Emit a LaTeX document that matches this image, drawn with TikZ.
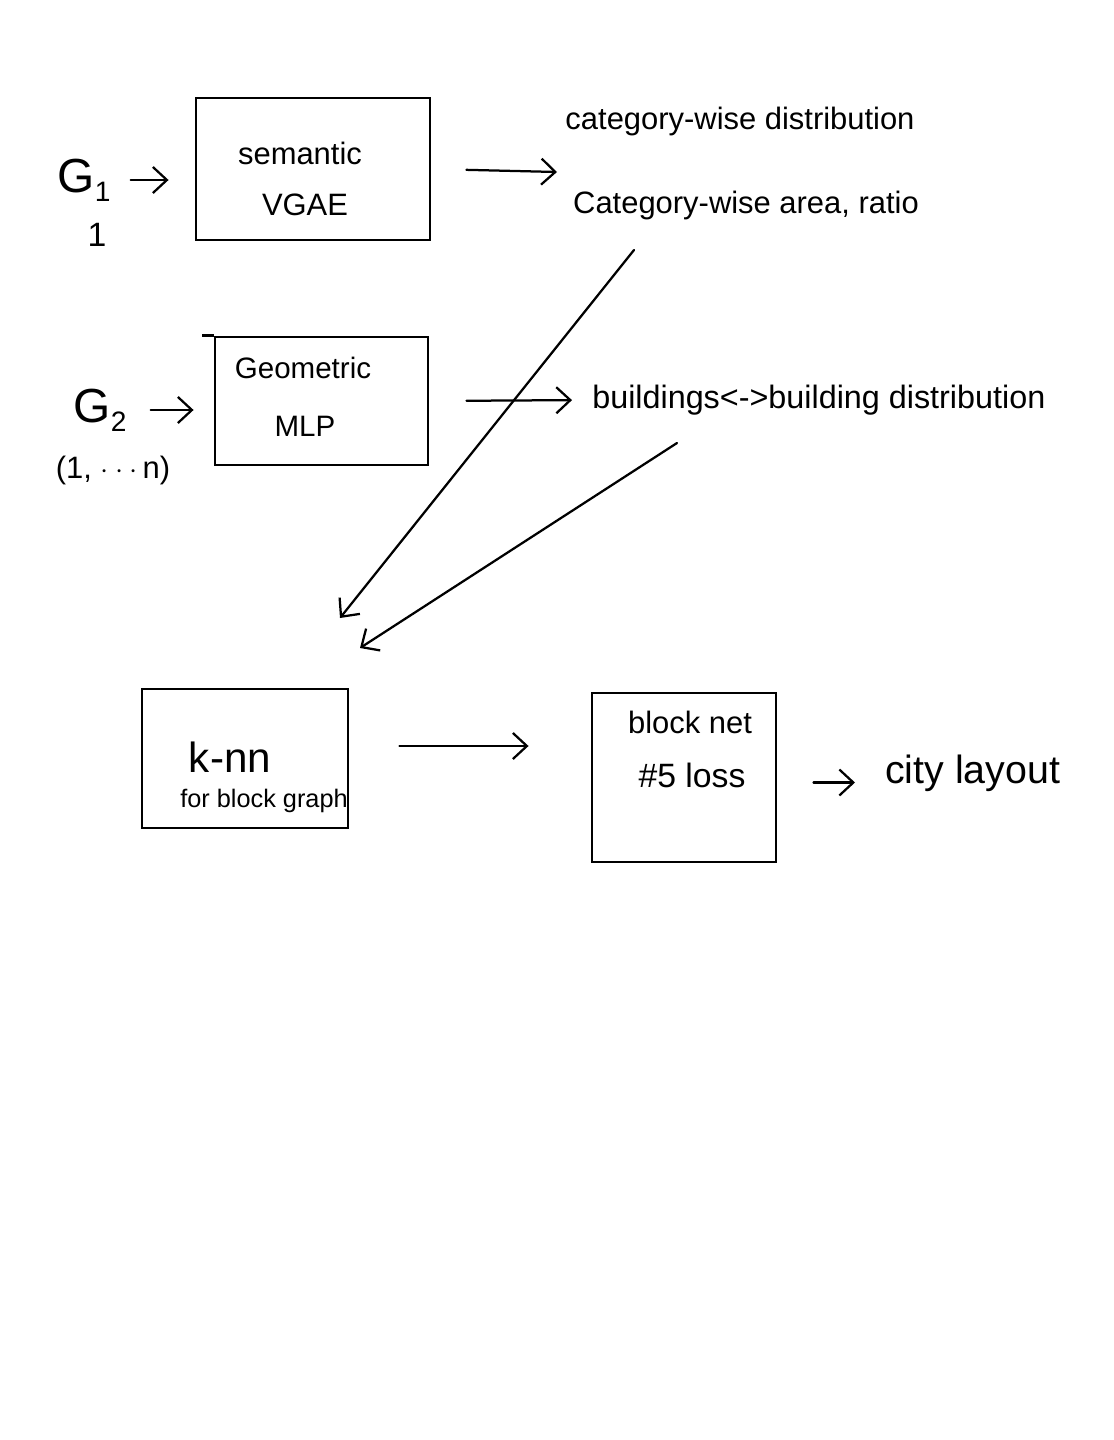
\documentclass[tikz,border=0pt]{standalone}
\usepackage{fontspec}
\setmainfont{Liberation Sans}
\usetikzlibrary{arrows.meta}
\newcommand{\subtxt}[1]{\raisebox{-0.35ex}{\fontsize{20}{22}\selectfont #1}}
\begin{document}
\begin{tikzpicture}[x=0.025cm,y=-0.025cm,
  box/.style={draw,line width=2pt,inner sep=0pt},
  arr/.style={line width=1.6pt,line cap=round,-{Straight Barb[length=3.5mm,width=6.5mm,line width=1.6pt]}},
  lbl/.style={inner sep=0pt,anchor=center}]
\fill[white] (0,0) rectangle (1113,1440);
% boxes
\node[box,minimum width=5.85cm,minimum height=3.55cm] (sem) at (313,169) {};
\node[box,minimum width=5.325cm,minimum height=3.2cm] (geo) at (321.5,401) {};
\node[box,minimum width=5.15cm,minimum height=3.475cm] (knn) at (245,758.5) {};
\node[box,minimum width=4.6cm,minimum height=4.225cm] (net) at (684,777.5) {};
\draw[line width=2pt] (geo.north west) -- ++(-12,0);
% texts
\node[lbl,font=\fontsize{34}{40}\selectfont] (g1) at (84,180) {G\subtxt{1}};
\node[lbl,font=\fontsize{24}{28}\selectfont] (one) at (97,235) {1};
\node[lbl,font=\fontsize{22}{26}\selectfont] (semt) at (300,153) {semantic};
\node[lbl,font=\fontsize{22}{26}\selectfont] (vgae) at (305,205) {VGAE};
\node[lbl,font=\fontsize{22}{26}\selectfont] (cat1) at (740,122) {category-wise distribution};
\node[lbl,font=\fontsize{22}{26}\selectfont] (cat2) at (746,205) {Category-wise area, ratio};
\coordinate (catin) at (557,172);
\node[lbl,font=\fontsize{34}{40}\selectfont] (g2) at (100,410) {G\subtxt{2}};
\node[lbl,font=\fontsize{22}{26}\selectfont] (range) at (113,470) {(1, $\cdot\cdot\cdot\,$n)};
\node[lbl,font=\fontsize{21}{25}\selectfont] (geot) at (303,368) {Geometric};
\node[lbl,font=\fontsize{21}{25}\selectfont] (mlp) at (305,426) {MLP};
\node[lbl,font=\fontsize{23}{27}\selectfont,anchor=west] (bld) at (592,400) {buildings<->building distribution};
\node[lbl,font=\fontsize{30}{34}\selectfont] (knnt) at (230,757) {k-nn};
\node[lbl,font=\fontsize{18}{22}\selectfont] (forb) at (264,801) {for block graph};
\node[lbl,font=\fontsize{22}{26}\selectfont] (bnet) at (690,722) {block net};
\node[lbl,font=\fontsize{24}{28}\selectfont] (loss) at (692,775) {\#5 loss};
\node[lbl,font=\fontsize{28}{32}\selectfont,anchor=west] (city) at (885,773) {city layout};
% diagonal end points
\coordinate (d1s) at (634,250);
\coordinate (d1e) at (340,618);
\coordinate (d2s) at (677,443);
\coordinate (d2e) at (360,648);
% connectors
\draw[arr,shorten >=0.65cm] (g1.east) ++(0.5cm,0) coordinate (g1o) -- (g1o -| sem.west);
\draw[arr,shorten <=0.875cm] (sem.east) -- (catin);
\draw[arr,shorten >=0.5cm] (g2.east) ++(0.6cm,0) coordinate (g2o) -- (g2o -| geo.west);
\draw[arr,shorten <=0.925cm,shorten >=0.5cm] (geo.east) -- (bld.west);
\draw[arr] (d1s) -- (d1e);
\draw[arr] (d2s) -- (d2e);
\draw[arr,shorten <=1.25cm,shorten >=1.55cm] (knn.east) ++(0,-12.5) coordinate (knno) -- (knno -| net.west);
\draw[arr,shorten <=0.9cm,shorten >=0.75cm] (net.east) ++(0,5) coordinate (neto) -- (neto -| city.west);
\end{tikzpicture}
\end{document}
